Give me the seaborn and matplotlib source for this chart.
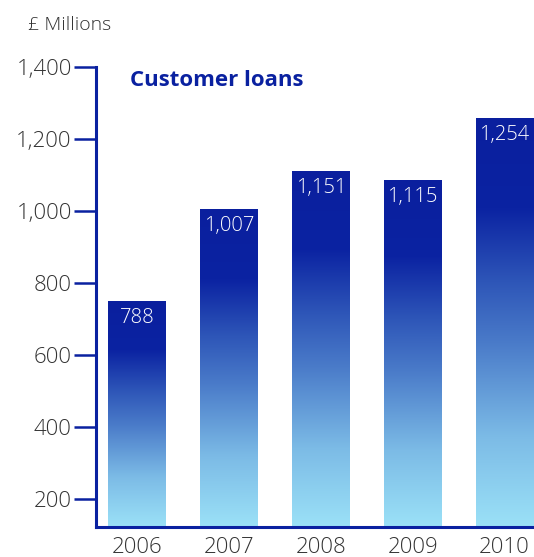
import matplotlib
matplotlib.use("Agg")
import matplotlib.pyplot as plt
import seaborn as sns
import numpy as np
import pandas as pd
from matplotlib.colors import LinearSegmentedColormap

# Data (bar heights as drawn in the picture, and the printed value labels)
years = ["2006", "2007", "2008", "2009", "2010"]
bar_heights = [750, 1005, 1111, 1086, 1258]
value_labels = ["788", "1,007", "1,151", "1,115", "1,254"]
y_ticks = [200, 400, 600, 800, 1000, 1200, 1400]
y_tick_labels = ["200", "400", "600", "800", "1,000", "1,200", "1,400"]

sns.set_style("white")
plt.rcParams["font.family"] = ["Open Sans", "DejaVu Sans"]

DARK = "#0A21A0"
TEXT = "#333333"

fig = plt.figure(figsize=(5.34, 5.57), dpi=100)
ax = fig.add_axes([96/534, 30/557, 1 - 96/534, (527-67)/557])

df = pd.DataFrame({"year": years, "value": bar_heights})
sns.barplot(data=df, x="year", y="value", width=0.63, color=DARK, ax=ax,
            saturation=1)

cmap = LinearSegmentedColormap.from_list(
    "grad",
    [(0.0, "#0A1F9E"), (0.22, "#0B23A2"), (0.40, "#2E56B8"),
     (0.55, "#4A7BC9"), (0.78, "#7CBBE6"), (1.0, "#9BE1F7")])
grad = np.linspace(0, 1, 256).reshape(-1, 1)

ax.set_xlim(-0.446, 4.32)
ax.set_ylim(122, 1400)

for patch, lab in zip(ax.patches, value_labels):
    x0, y0 = patch.get_x(), patch.get_y()
    w, h = patch.get_width(), patch.get_height()
    patch.set_facecolor("none")
    patch.set_edgecolor("none")
    im = ax.imshow(grad, cmap=cmap, aspect="auto",
                   extent=[x0, x0 + w, 122, y0 + h],
                   origin="upper", zorder=2, interpolation="bilinear")
    im.set_clip_path(patch)
    ax.annotate(lab, (x0 + w/2, y0 + h), xytext=(0, -5),
                textcoords="offset points", ha="center", va="top",
                color="white", fontsize=14.5, fontweight="light", zorder=3)

ax.set_xlim(-0.446, 4.32)
ax.set_ylim(122, 1400)

ax.set_yticks(y_ticks)
ax.set_yticklabels(y_tick_labels, fontweight="light")
ax.set_xticks(range(len(years)))
ax.set_xticklabels(years, fontweight="light")
ax.tick_params(axis="y", left=True, length=15.5, width=1.8, color=DARK,
               labelsize=16, labelcolor=TEXT, pad=2)
ax.tick_params(axis="x", bottom=False, labelsize=16, labelcolor=TEXT, pad=4)
ax.set_xlabel("")
ax.set_ylabel("")

for s in ["top", "right"]:
    ax.spines[s].set_visible(False)
for s in ["left", "bottom"]:
    ax.spines[s].set_visible(True)
    ax.spines[s].set_color(DARK)
    ax.spines[s].set_linewidth(2.2)

fig.text(0.052, 1 - 25/557, "£ Millions", ha="left", va="center",
         fontsize=14, fontweight="light", color=TEXT)
fig.text(130/534, 1 - 80/557, "Customer loans", ha="left", va="center",
         fontsize=16, fontweight="bold", color=DARK)

fig.savefig("out.png", dpi=100)
